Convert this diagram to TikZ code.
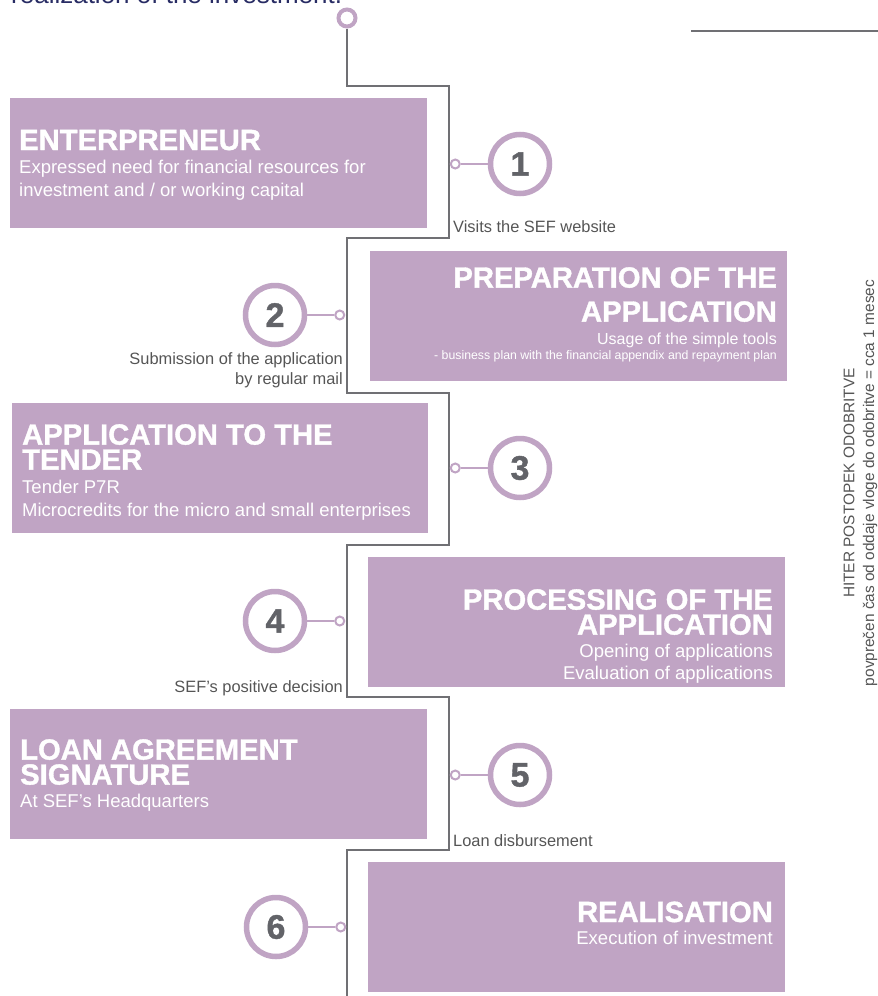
\documentclass[tikz,border=0pt]{standalone}
\usepackage{fontspec}
\setmainfont{Liberation Sans}
\newfontfamily\heavyfont{Liberation Sans}[BoldFeatures={FakeBold=1.2}]
\usetikzlibrary{positioning}
\definecolor{lilac}{RGB}{192,164,196}
\definecolor{wiregray}{RGB}{112,112,116}
\definecolor{numgray}{RGB}{98,99,104}
\definecolor{notegray}{RGB}{85,85,85}
\definecolor{navy}{RGB}{40,44,100}

\begin{document}
\begin{tikzpicture}[
                x=1pt, y=-1pt,
                box/.style = {
                    fill=lilac,
                    minimum width = 417pt,
                    minimum height = 130pt,
                    inner sep = 0pt,
                    anchor = north west
                },
                ttl/.style = {font=\heavyfont\bfseries\fontsize{29.2}{25}\selectfont, text=white, inner sep=0pt},
                txt/.style = {font=\fontsize{18.5}{22}\selectfont, text=white, inner sep=0pt},
                note/.style = {font=\fontsize{16.4}{20}\selectfont, text=notegray, inner sep=0pt},
                side/.style = {font=\fontsize{15.4}{18}\selectfont, text=notegray, inner sep=0pt, rotate=90},
                num/.style = {
                    circle,
                    draw=lilac,
                    line width = 5.5pt,
                    fill=white,
                    minimum size = 59pt,
                    inner sep = 0pt,
                    font=\heavyfont\bfseries\fontsize{34}{34}\selectfont,
                    text=numgray
                },
                knob/.style = {circle, draw=lilac, line width=#1, fill=white, minimum size=9pt, inner sep=0pt},
                knob/.default = 2pt,
                wire/.style = {draw=wiregray, line width=2pt},
                stem/.style = {draw=lilac, line width=2pt}
            ]
            \useasboundingbox (0,0) rectangle (878,996);
            %
            \begin{scope}
                \clip (0,0) rectangle (878,996);
                \node[anchor=base west, font=\fontsize{26}{26}\selectfont, text=navy, inner sep=0pt] (head) at (11,3.5) {realization of the investment.};
            \end{scope}
            \coordinate (r0) at (691,31);
            \coordinate (r1) at (878,31);
            \draw[wire] (r0) -- (r1);
            %
            \node[knob=4pt, minimum size=17pt] (k0) at (347,18) {};
            \coordinate (j1) at (449,86);
            \coordinate (j2) at (347,238);
            \coordinate (j3) at (449,393);
            \coordinate (j4) at (347,545);
            \coordinate (j5) at (449,697);
            \coordinate (j6) at (347,850);
            \coordinate (wend) at (347,996);
            \draw[wire] (k0.south) |- (j1) |- (j2) |- (j3) |- (j4) |- (j5) |- (j6) -- (wend);
            %
            \node[box] (b1) at (10,98) {};
            \node[ttl, anchor=base west] (b1t) at (19,150) {ENTERPRENEUR};
            \node[txt, anchor=base west] (b1a) at (19,173) {Expressed need for financial resources for};
            \node[txt, anchor=base west] (b1b) at (19,196) {investment and / or working capital};
            %
            \node[box] (b2) at (370,251) {};
            \node[ttl, anchor=north east, align=right, font=\heavyfont\bfseries\fontsize{29.2}{34}\selectfont] (b2t) at (777,267) {PREPARATION OF THE\\APPLICATION};
            \node[txt, anchor=base east, font=\fontsize{16}{18}\selectfont] (b2a) at (777,344) {Usage of the simple tools};
            \node[txt, anchor=base east, font=\fontsize{12.3}{14}\selectfont] (b2b) at (777,359) {- business plan with the financial appendix and repayment plan};
            %
            \node[box, minimum width=416pt] (b3) at (12,403) {};
            \node[ttl, anchor=north west, align=left] (b3t) at (22,424) {APPLICATION TO THE\\TENDER};
            \node[txt, anchor=base west] (b3a) at (22,493) {Tender P7R};
            \node[txt, anchor=base west] (b3b) at (22,516) {Microcredits for the micro and small enterprises};
            %
            \node[box] (b4) at (368,557) {};
            \node[ttl, anchor=north east, align=right] (b4t) at (773,589) {PROCESSING OF THE\\APPLICATION};
            \node[txt, anchor=base east] (b4a) at (773,657) {Opening of applications};
            \node[txt, anchor=base east] (b4b) at (773,679) {Evaluation of applications};
            %
            \node[box] (b5) at (10,709) {};
            \node[ttl, anchor=north west, align=left] (b5t) at (20,739) {LOAN AGREEMENT\\SIGNATURE};
            \node[txt, anchor=base west] (b5a) at (20,807) {At SEF's Headquarters};
            %
            \node[box] (b6) at (368,862) {};
            \node[ttl, anchor=base east] (b6t) at (773,922) {REALISATION};
            \node[txt, anchor=base east] (b6a) at (773,944) {Execution of investment};
            %
            \node[num] (c1) at (520,164) {1};
            \node[num] (c2) at (275,315) {2};
            \node[num] (c3) at (520,468) {3};
            \node[num] (c4) at (275,621) {4};
            \node[num] (c5) at (520,775) {5};
            \node[num] (c6) at (276,927) {6};
            %
            \node[knob, left=27pt of c1] (k1) {};
            \node[knob, right=27pt of c2] (k2) {};
            \node[knob, left=27pt of c3] (k3) {};
            \node[knob, right=27pt of c4] (k4) {};
            \node[knob, left=27pt of c5] (k5) {};
            \node[knob, right=27pt of c6] (k6) {};
            \foreach \i in {1,...,6}
                \draw[stem] (k\i) -- (c\i);
            %
            \node[note, anchor=base west] (n1) at (453,232) {Visits the SEF website};
            \node[note, anchor=north east, align=right] (n2) at (343,352) {Submission of the application\\by regular mail};
            \node[note, anchor=base east] (n4) at (343,692) {SEF's positive decision};
            \node[note, anchor=base west] (n5) at (453,846) {Loan disbursement};
            %
            \node[side] (s1) at (849,483) {HITER POSTOPEK ODOBRITVE};
            \node[side] (s2) at (870,483) {povprečen čas od oddaje vloge do odobritve = cca 1 mesec};
        \end{tikzpicture}
\end{document}
